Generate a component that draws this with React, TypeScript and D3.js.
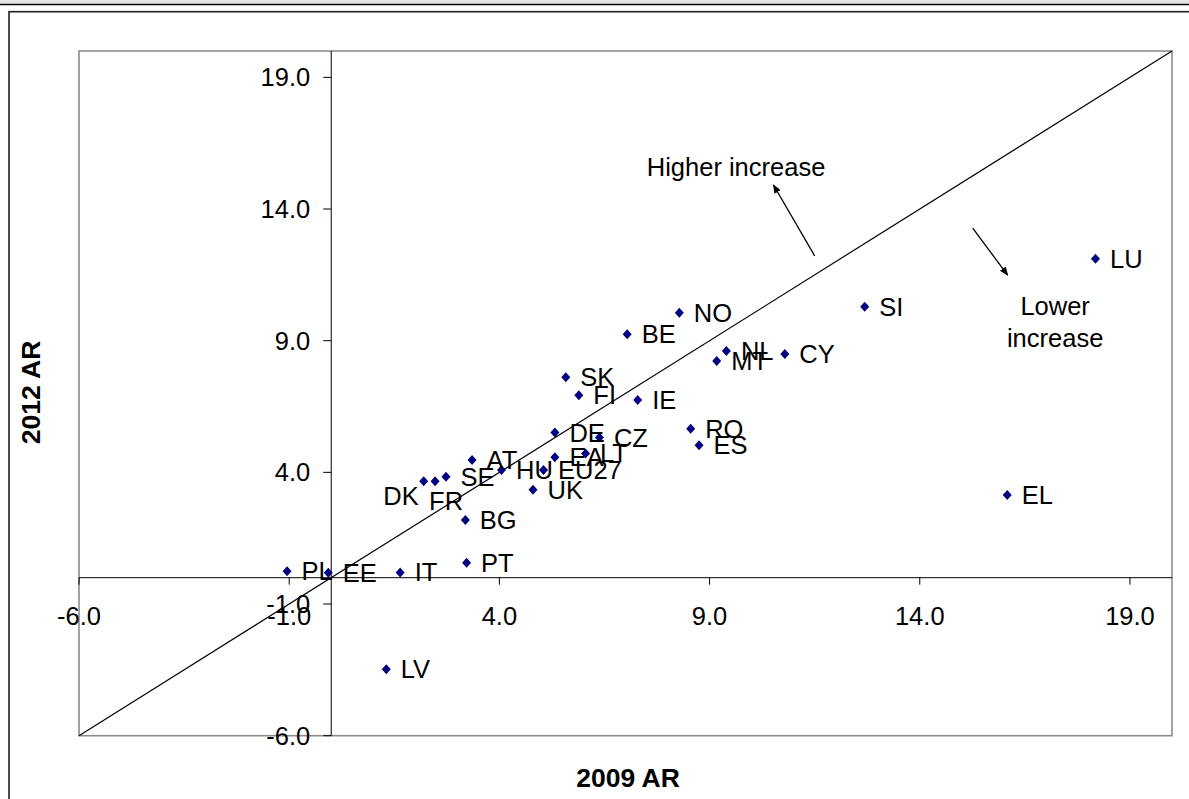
import React from "react";
import * as d3 from "d3";

// ---- data ----
const countries = ["LU","SI","EL","CY","NL","MT","NO","BE","SK","FI","IE","RO","ES","DE","CZ","EA","LT","EU27","HU","UK","AT","SE","FR","DK","BG","PT","IT","PL","EE","LV"];
const ar2009 = [18.18,12.69,16.08,10.79,9.40,9.17,8.28,7.04,5.58,5.89,7.29,8.55,8.75,5.32,6.38,5.32,6.05,5.05,4.05,4.80,3.35,2.73,2.47,2.20,3.19,3.22,1.64,-1.05,-0.07,1.31];
const ar2012 = [12.11,10.29,3.14,8.49,8.61,8.23,10.06,9.24,7.61,6.93,6.75,5.66,5.03,5.51,5.32,4.57,4.72,4.09,4.09,3.34,4.47,3.83,3.66,3.66,2.19,0.57,0.20,0.24,0.19,-3.48];
const ticks = [-6, -1, 4, 9, 14, 19];
const domain: [number, number] = [-6, 20];

// label placement tweaks (pixels), for labels dragged in the original
const labelNudge: Record<string, { dx: number; dy: number; anchor?: string }> = {
  FR: { dx: -6, dy: 19.5 },
  DK: { dx: -5, dy: 14.5, anchor: "end" },
};

// annotations (in data units)
const higherText = { x: 9.63, y: 15.61, lines: ["Higher increase"] };
const lowerText = { x: 17.22, y: 10.33, lines: ["Lower", "increase"] };
const higherArrow = { x1: 11.5, y1: 12.22, x2: 10.52, y2: 14.91 };
const lowerArrow = { x1: 15.26, y1: 13.27, x2: 16.09, y2: 11.49 };

const W = 1189;
const H = 799;
const FONT = "'Liberation Sans', Arial, sans-serif";
const FS = 25.5;

export default function App() {
  const x = d3.scaleLinear().domain(domain).range([79, 1172]);
  const y = d3.scaleLinear().domain(domain).range([735.7, 51]);
  const x0 = x(0);
  const y0 = y(0);
  const fmt = (v: number) => d3.format(".1f")(v).replace("\u2212", "-");
  const diamond = (cx: number, cy: number) =>
    `M${cx},${cy - 5}L${cx + 4.5},${cy}L${cx},${cy + 5}L${cx - 4.5},${cy}Z`;
  const line = d3.line<[number, number]>().x((d) => x(d[0])).y((d) => y(d[1]));

  return (
    <svg
      width={W}
      height={H}
      style={{ position: "absolute", left: 0, top: 0, background: "#fff" }}
      fontFamily={FONT}
    >
      <defs>
        <marker id="ah" viewBox="0 0 10 10" refX="9" refY="5" markerWidth="9" markerHeight="9" orient="auto" markerUnits="userSpaceOnUse">
          <path d="M0,1L10,5L0,9Z" fill="#000" />
        </marker>
      </defs>
      {/* page header remnants */}
      <rect x={0} y={0} width={W} height={3.5} fill="#e6e6e6" />
      <line x1={0} x2={W} y1={4.5} y2={4.5} stroke="#000" strokeWidth={1.5} />
      {/* outer chart frame */}
      <rect x={9} y={11.7} width={W + 20} height={H + 20} fill="#fff" stroke="#222" strokeWidth={1.6} />

      {/* plot area */}
      <rect x={79} y={51} width={1172 - 79} height={735.7 - 51} fill="#fff" stroke="#8c8c8c" strokeWidth={1.6} />

      {/* diagonal */}
      <path d={line([[domain[0], domain[0]], [domain[1], domain[1]]]) || ""} stroke="#000" strokeWidth={1.2} fill="none" />

      {/* axes lines */}
      <line x1={x0} x2={x0} y1={51} y2={735.7} stroke="#000" strokeWidth={1} />
      <line x1={79} x2={1172} y1={y0} y2={y0} stroke="#000" strokeWidth={1} />

      {/* x ticks */}
      {ticks.map((t) => (
        <g key={"xt" + t}>
          <line x1={x(t)} x2={x(t)} y1={y0} y2={y0 + 7} stroke="#000" strokeWidth={1} />
          <text x={x(t)} y={y0 + 38} dy="0.35em" textAnchor="middle" fontSize={FS} fill="#000">
            {fmt(t)}
          </text>
        </g>
      ))}
      {/* y ticks */}
      {ticks.map((t) => (
        <g key={"yt" + t}>
          <line x1={x0 - 8} x2={x0} y1={y(t)} y2={y(t)} stroke="#000" strokeWidth={1} />
          <text x={x0 - 21} y={y(t)} dy="0.35em" textAnchor="end" fontSize={FS} fill="#000">
            {fmt(t)}
          </text>
        </g>
      ))}

      {/* points */}
      {countries.map((c, i) => (
        <path key={"p" + c} d={diamond(x(ar2009[i]), y(ar2012[i]))} fill="#000080" />
      ))}
      {/* labels */}
      {countries.map((c, i) => {
        const n = labelNudge[c];
        const px = x(ar2009[i]);
        const py = y(ar2012[i]);
        return (
          <text
            key={"l" + c}
            x={n ? px + n.dx : px + 14.5}
            y={n ? py + n.dy : py}
            dy="0.35em"
            textAnchor={n && n.anchor ? n.anchor : "start"}
            fontSize={FS}
            fill="#000"
          >
            {c}
          </text>
        );
      })}

      {/* annotations */}
      <line x1={x(higherArrow.x1)} y1={y(higherArrow.y1)} x2={x(higherArrow.x2)} y2={y(higherArrow.y2)} stroke="#000" strokeWidth={1.3} markerEnd="url(#ah)" />
      <line x1={x(lowerArrow.x1)} y1={y(lowerArrow.y1)} x2={x(lowerArrow.x2)} y2={y(lowerArrow.y2)} stroke="#000" strokeWidth={1.3} markerEnd="url(#ah)" />
      {[higherText, lowerText].map((a, k) => (
        <g key={"a" + k}>
          {a.lines.map((s, j) => (
            <text key={j} x={x(a.x)} y={y(a.y) + j * 32.3} dy="0.35em" textAnchor="middle" fontSize={FS} fill="#000">
              {s}
            </text>
          ))}
        </g>
      ))}

      {/* axis titles */}
      <text x={628} y={778} dy="0.35em" textAnchor="middle" fontSize={26.5} fontWeight="bold" fill="#000">
        2009 AR
      </text>
      <text transform="translate(31,392.5) rotate(-90)" dy="0.35em" textAnchor="middle" fontSize={26.5} fontWeight="bold" fill="#000">
        2012 AR
      </text>
    </svg>
  );
}
